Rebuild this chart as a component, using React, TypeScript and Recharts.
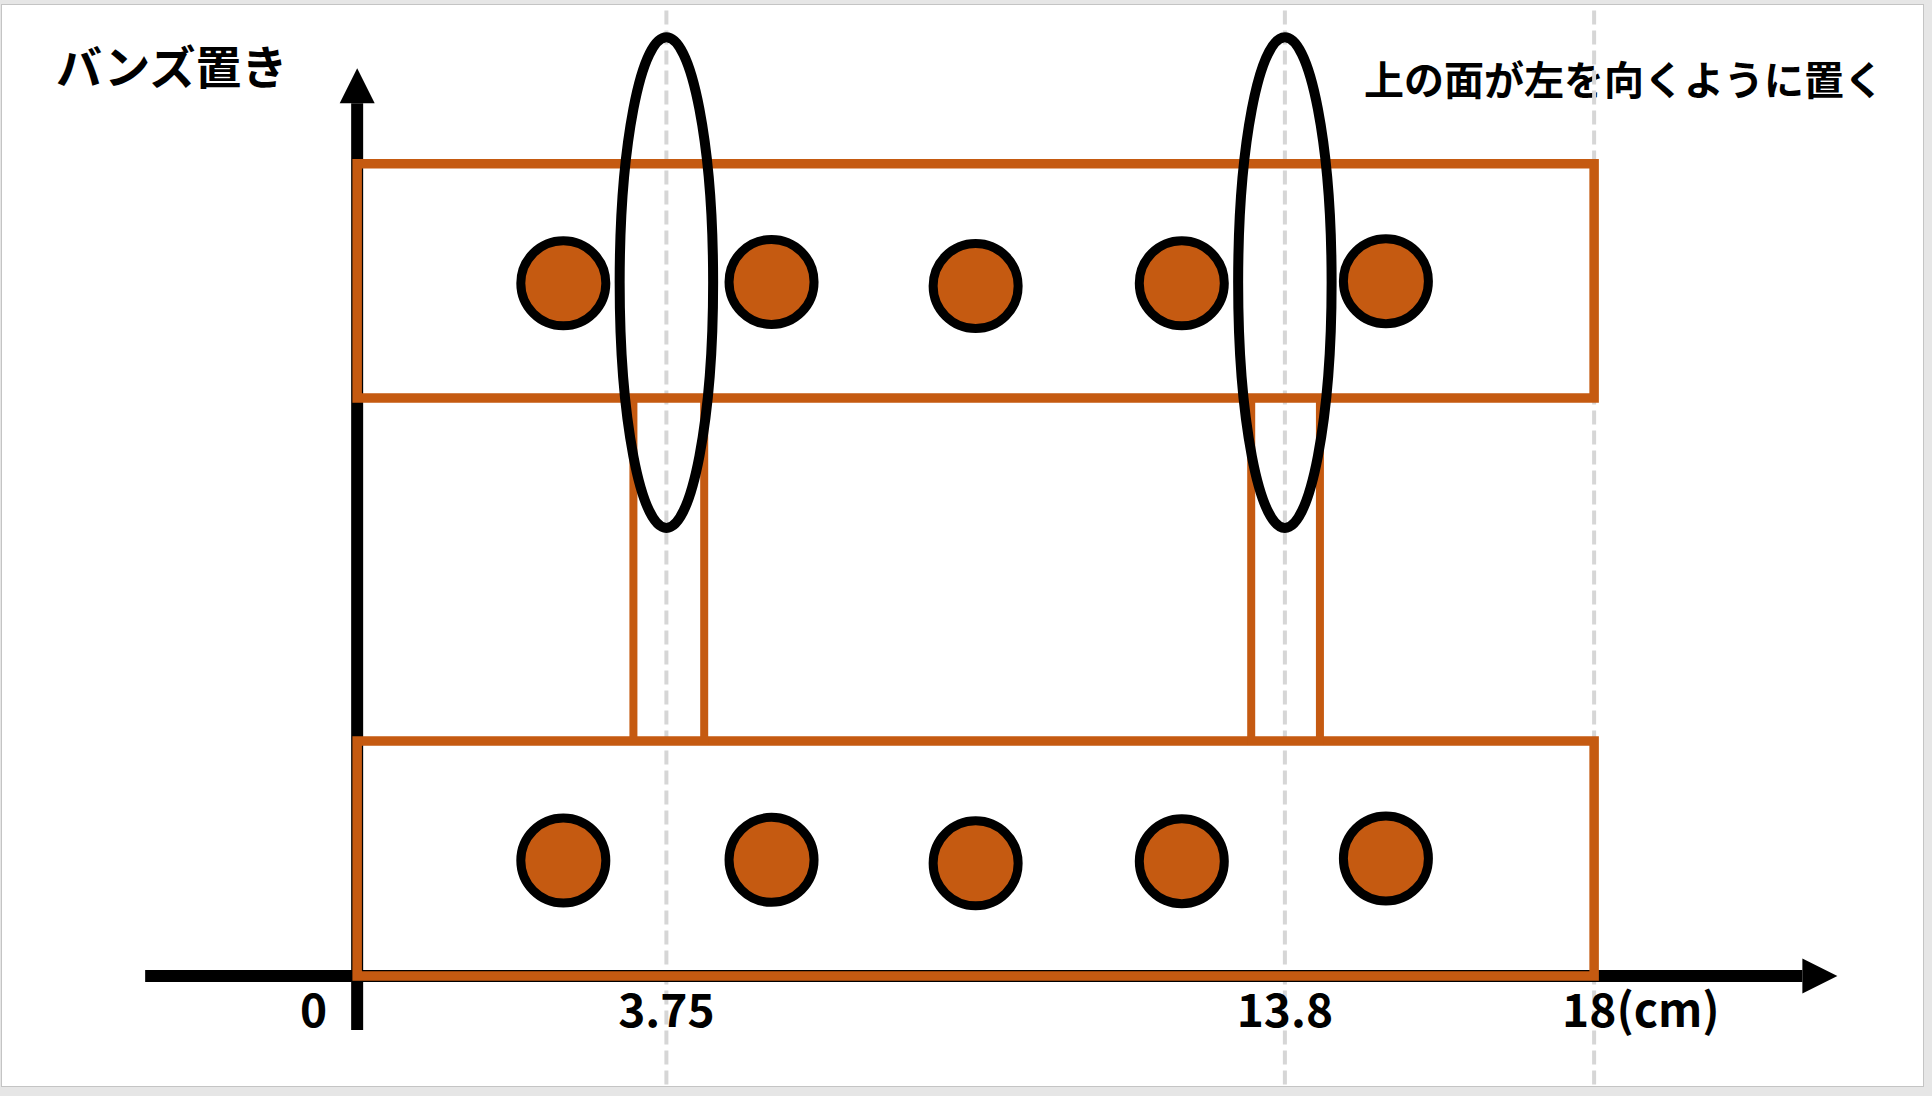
import React from 'react'
import {
  ComposedChart,
  XAxis,
  YAxis,
  Scatter,
  ReferenceLine,
  ReferenceArea,
} from 'recharts'

// bun positions (cm, picture units)
const bunX = [3, 6.03, 9, 12, 14.97]
const upperBunY = [10.08, 10.1, 10.04, 10.08, 10.11]
const lowerBunY = [1.68, 1.69, 1.64, 1.67, 1.71]

// trays
const trayLeft = 0
const trayRight = 18
const trayBottom = [0, 8.41]
const trayTop = [3.42, 11.82]

// posts between the trays
const postLeft = [4.02, 13.01]
const postRight = [5.05, 14.01]

// marks
const markX = [4.5, 13.5]
const markCenterY = 10.09
const markHalfW = 0.68
const markHalfH = 3.57

// axis ticks
const tickValues = [0, 4.5, 13.5, 18]
const tickLabels = ['0', '3.75', '13.8', '18(cm)']
const guideX = [4.5, 13.5, 18]

const ORANGE = '#C55A11'
const FONT = '"Noto Sans CJK JP", "Noto Sans", sans-serif'

const upperBuns = bunX.map((x, i) => ({ x, y: upperBunY[i] }))
const lowerBuns = bunX.map((x, i) => ({ x, y: lowerBunY[i] }))

const Bun = (props: any) => (
  <circle cx={props.cx} cy={props.cy} r={42.5} fill={ORANGE} stroke="#000" strokeWidth={9} />
)

const Arrow = (props: any) => {
  const { x1, y1, x2, y2 } = props
  const len = 35
  const half = 17.5
  const d = Math.hypot(x2 - x1, y2 - y1)
  const ux = (x2 - x1) / d
  const uy = (y2 - y1) / d
  const bx = x2 - ux * len
  const by = y2 - uy * len
  const px = -uy * half
  const py = ux * half
  return (
    <g>
      <line x1={x1} y1={y1} x2={bx} y2={by} stroke="#000" strokeWidth={12} />
      <polygon points={`${x2},${y2} ${bx + px},${by + py} ${bx - px},${by - py}`} fill="#000" />
    </g>
  )
}

const Oval = (props: any) => (
  <ellipse
    cx={props.x + props.width / 2}
    cy={props.y + props.height / 2}
    rx={props.width / 2}
    ry={props.height / 2}
    fill="none"
    stroke="#000"
    strokeWidth={10}
  />
)

const AxisTick = (props: any) => {
  const { x, y, payload } = props
  const i = tickValues.indexOf(payload.value)
  const label = tickLabels[i]
  let anchor: 'start' | 'middle' | 'end' = 'middle'
  let dx = 0
  if (i === 0) {
    anchor = 'end'
    dx = -30
  } else if (i === tickValues.length - 1) {
    anchor = 'start'
    dx = -32
  }
  return (
    <text
      x={x + dx}
      y={y}
      dy="0.71em"
      textAnchor={anchor}
      fontFamily={FONT}
      fontWeight={700}
      fontSize={46}
      fill="#000"
    >
      {label}
    </text>
  )
}

export default function App() {
  return (
    <div style={{ position: 'absolute', left: 0, top: 0, width: 1932, height: 1096, background: '#e6e6e6' }}>
      <div
        style={{
          position: 'absolute',
          left: 1,
          top: 4,
          width: 1923,
          height: 1083,
          boxSizing: 'border-box',
          border: '1px solid #c4c4c4',
          background: '#fff',
        }}
      />
      <div style={{ position: 'absolute', left: 0, top: 0 }}>
        <ComposedChart width={1932} height={1096} margin={{ top: 7, right: 63, bottom: 60, left: 151 }}>
          <XAxis
            type="number"
            dataKey="x"
            domain={[-3, 22]}
            allowDataOverflow
            ticks={tickValues}
            interval={0}
            axisLine={false}
            tickLine={false}
            tickMargin={12}
            height={60}
            tick={<AxisTick />}
          />
          <YAxis type="number" dataKey="y" domain={[0, 14.1]} allowDataOverflow hide width={0} />

          {guideX.map((gx) => (
            <ReferenceLine
              key={`g${gx}`}
              segment={[{ x: gx, y: -1.58 }, { x: gx, y: 14.12 }]}
              ifOverflow="visible"
              stroke="#d6d6d6"
              strokeWidth={4}
              strokeDasharray="14 6"
              zIndex={101}
            />
          ))}

          <ReferenceLine
            segment={[{ x: -3.085, y: 0 }, { x: 21.54, y: 0 }]}
            ifOverflow="visible"
            shape={Arrow}
            zIndex={102}
          />
          <ReferenceLine
            segment={[{ x: 0, y: -0.786 }, { x: 0, y: 13.21 }]}
            ifOverflow="visible"
            shape={Arrow}
            zIndex={102}
          />

          {trayBottom.map((b, i) => (
            <ReferenceArea
              key={`t${i}`}
              x1={trayLeft}
              x2={trayRight}
              y1={b}
              y2={trayTop[i]}
              ifOverflow="visible"
              fill="none"
              fillOpacity={0}
              stroke={ORANGE}
              strokeWidth={9.5}
              zIndex={103}
            />
          ))}

          {postLeft.map((l, i) => (
            <ReferenceArea
              key={`p${i}`}
              x1={l}
              x2={postRight[i]}
              y1={trayTop[0]}
              y2={trayBottom[1]}
              ifOverflow="visible"
              fill="none"
              fillOpacity={0}
              stroke={ORANGE}
              strokeWidth={8}
              zIndex={104}
            />
          ))}

          <Scatter data={upperBuns} shape={Bun} isAnimationActive={false} zIndex={105} />
          <Scatter data={lowerBuns} shape={Bun} isAnimationActive={false} zIndex={105} />

          {markX.map((mx) => (
            <ReferenceArea
              key={`m${mx}`}
              x1={mx - markHalfW}
              x2={mx + markHalfW}
              y1={markCenterY - markHalfH}
              y2={markCenterY + markHalfH}
              ifOverflow="visible"
              shape={Oval}
              zIndex={106}
            />
          ))}

          <text x={56} y={84} fontFamily={FONT} fontWeight={700} fontSize={46} fill="#000">
            バンズ置き
          </text>
          <text x={1364} y={95} fontFamily={FONT} fontWeight={700} fontSize={40} fill="#000">
            上の面が左を向くように置く
          </text>
        </ComposedChart>
      </div>
    </div>
  )
}
